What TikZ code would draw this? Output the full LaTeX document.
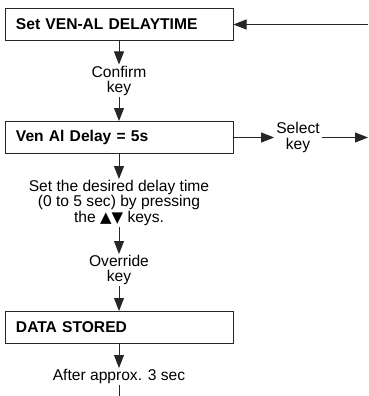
\documentclass[tikz,border=0pt]{standalone}
\usepackage{fontspec}
\setmainfont{Liberation Sans}
\newfontfamily\symfont{DejaVu Sans}
\usetikzlibrary{arrows.meta, positioning}

\begin{document}
\begin{tikzpicture}[
    x=1pt, y=-1pt,
    font=\fontsize{15.6}{15.4}\selectfont,
    >={Triangle[length=13pt, width=10pt]},
    menu/.style={
        rectangle, draw=black!85, line width=1pt,
        minimum width=228pt, minimum height=32pt,
        text width=206pt, inner xsep=11pt,
        align=left, font=\fontsize{15.6}{15.4}\selectfont\bfseries
    },
    keytext/.style={
        align=center, inner xsep=2pt, inner ysep=1pt
    },
    flow/.style={->, line width=0.9pt, black!85},
    plain/.style={-, line width=0.9pt, black!85}
]

\useasboundingbox (0,0) rectangle (368,396);

\node (setdelay) [menu] at (119, 24.5) {Set VEN-AL DELAYTIME};
\node (vendelay) [menu] at (119,137.5) {Ven Al Delay = 5s};
\node (stored)   [menu] at (119,327.5) {DATA STORED};

\node (confirm)  [keytext, anchor=north] at (119, 64.5) {Confirm\\key};
\node (choose)   [keytext, anchor=north] at (119,179)
    {Set the desired delay time\\(0 to 5 sec) by pressing\\the {\symfont\fontsize{15}{15}\selectfont ▲▼} keys.};
\node (override) [keytext, anchor=north] at (119,254) {Override\\key};
\node (wait)     [keytext, anchor=north] at (119,368) {After approx. 3 sec};

\node (select)   [keytext] at (298,137.5) {Select\\key};

\coordinate (backin)  at (368, 24.5);
\coordinate (nextout) at (368,137.5);
\coordinate (tail)    at (119,396);

\draw[flow] (backin) -- (setdelay);
\draw[flow] (setdelay) -- (confirm);
\draw[flow] (confirm) -- (vendelay);
\draw[flow] (vendelay) -- (select);
\draw[flow] (select) -- (nextout);
\draw[flow] (vendelay) -- (choose);
\draw[flow] (choose) -- (override);
\draw[flow] (override) -- (stored);
\draw[flow] (stored) -- (wait);
\draw[plain] (wait) -- (tail);

\end{tikzpicture}
\end{document}
